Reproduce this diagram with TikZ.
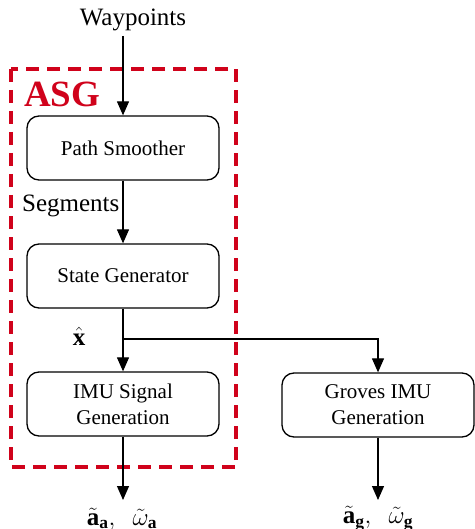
\documentclass[tikz,border=0pt]{standalone}
\usepackage{fontspec}
\setmainfont{Liberation Serif}
\usetikzlibrary{arrows.meta}
\definecolor{asgred}{RGB}{208,2,27}
\begin{document}
\begin{tikzpicture}[x=1pt,y=-1pt,
  blk/.style={draw, line width=1.3pt, rounded corners=12pt, minimum width=192pt, minimum height=64pt, align=center, font=\fontsize{21}{26}\selectfont, inner sep=0pt},
  lbl/.style={font=\fontsize{25}{30}\selectfont, inner sep=0pt},
  arr/.style={line width=1.2pt, -{Triangle[length=14pt,width=12pt]}},
  ln/.style={line width=1.2pt}]
\useasboundingbox (0,0) rectangle (474,529);
\draw[asgred, line width=4pt, dash pattern=on 13pt off 8pt] (11,69) rectangle (236,467);
\node[text=asgred, font=\fontsize{37}{40}\selectfont\bfseries, anchor=west, inner sep=0pt] (asg) at (24,94) {ASG};
\node[lbl] (wp) at (133,20) {Waypoints};
\node[blk] (ps) at (123,148) {Path Smoother};
\node[blk] (sg) at (123,276) {State Generator};
\node[blk] (imu) at (123,404) {IMU Signal\\Generation};
\node[blk] (gr) at (378,405) {Groves IMU\\Generation};
\coordinate (wpb) at (123,36);
\coordinate (j) at (123,339);
\coordinate (gt) at (378,339);
\coordinate (oa) at (123,500);
\coordinate (og) at (378,500);
\draw[arr] (wpb) -- (ps.north);
\draw[arr] (ps.south) -- node[lbl, anchor=east, pos=0.4, xshift=-3pt] (segl) {Segments} (sg.north);
\draw[ln] (sg.south) -- (j);
\draw[arr] (j) -- (imu.north);
\draw[arr] (j) -- (gt) -- (gr.north);
\node[lbl] (xh) at (79,336) {$\hat{\mathbf{x}}$};
\draw[arr] (imu.south) -- (oa);
\draw[arr] (gr.south) -- (og);
\node[lbl] (la) at (122,519) {$\tilde{\mathbf{a}}_{\mathbf{a}},\;\ \tilde{\omega}_{\mathbf{a}}$};
\node[lbl] (lg) at (378,519) {$\tilde{\mathbf{a}}_{\mathbf{g}},\;\ \tilde{\omega}_{\mathbf{g}}$};
\end{tikzpicture}
\end{document}
